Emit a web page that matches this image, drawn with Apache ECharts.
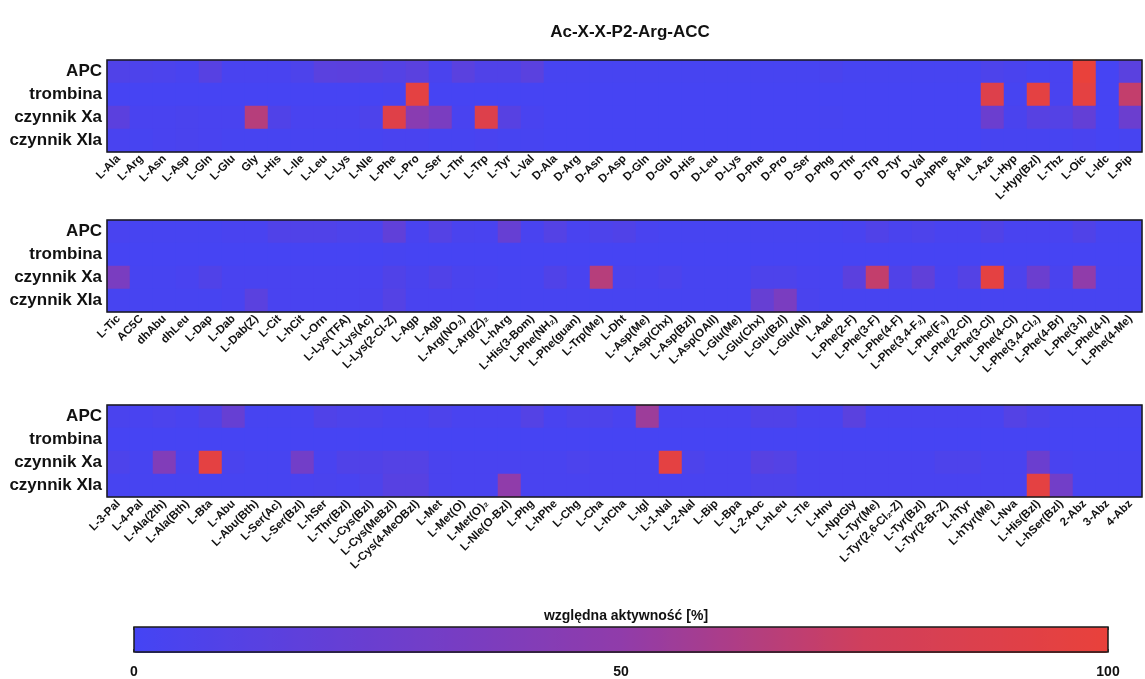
<!DOCTYPE html>
<html>
<head>
    <meta charset="utf-8">
    <title>Ac-X-X-P2-Arg-ACC</title>
    <script src="https://cdn.jsdelivr.net/npm/echarts@6/dist/echarts.min.js"></script>
    <style>
        html, body { margin: 0; padding: 0; background: #fff; }
        #chart1 { width: 1145px; height: 679px; }
    </style>
</head>
<body>
<div id="chart1"></div>
<script>
    // wiersze (enzymy)
    var enzymes = ['APC', 'trombina', 'czynnik Xa', 'czynnik XIa'];

    // panel 1 - aminokwasy naturalne, D-aminokwasy, iminokwasy
    var labels1 = ['L-Ala','L-Arg','L-Asn','L-Asp','L-Gln','L-Glu','Gly','L-His','L-Ile','L-Leu','L-Lys','L-Nle','L-Phe',
        'L-Pro','L-Ser','L-Thr','L-Trp','L-Tyr','L-Val','D-Ala','D-Arg','D-Asn','D-Asp','D-Gln','D-Glu','D-His','D-Leu',
        'D-Lys','D-Phe','D-Pro','D-Ser','D-Phg','D-Thr','D-Trp','D-Tyr','D-Val','D-hPhe','β-Ala','L-Aze','L-Hyp',
        'L-Hyp(Bzl)','L-Thz','L-Oic','L-Idc','L-Pip'];
    var apc1  = [8,6,5,3,12,3,3,3,6,14,15,13,10,14,4,14,8,8,14,2,2,2,2,2,2,2,2,2,2,2,2,4,2,2,2,2,2,2,6,4,2,3,100,1,14];
    var thr1  = [1,1,1,1,1,1,1,1,1,1,1,1,2,95,1,1,1,1,1,1,1,1,1,1,1,1,1,1,1,1,1,1,1,1,1,1,1,1,88,2,95,3,95,1,70];
    var fxa1  = [15,3,3,4,3,3,65,8,3,3,3,6,90,45,35,3,88,12,3,1,1,1,1,1,1,1,1,1,1,1,1,2,1,1,1,1,1,1,25,4,12,10,20,1,25];
    var fxia1 = [3,2,3,4,3,2,2,2,2,2,2,2,3,3,2,2,3,2,2,1,1,1,1,1,1,1,1,1,1,1,1,1,1,1,1,1,1,1,2,2,2,2,3,1,2];

    // panel 2
    var labels2 = ['L-Tic','AC5C','dhAbu','dhLeu','L-Dap','L-Dab','L-Dab(Z)','L-Cit','L-hCit','L-Orn','L-Lys(TFA)',
        'L-Lys(Ac)','L-Lys(2-Cl-Z)','L-Agp','L-Agb','L-Arg(NO₂)','L-Arg(Z)₂','L-hArg','L-His(3-Bom)','L-Phe(NH₂)',
        'L-Phe(guan)','L-Trp(Me)','L-Dht','L-Asp(Me)','L-Asp(Chx)','L-Asp(Bzl)','L-Asp(OAll)','L-Glu(Me)','L-Glu(Chx)',
        'L-Glu(Bzl)','L-Glu(All)','L-Aad','L-Phe(2-F)','L-Phe(3-F)','L-Phe(4-F)','L-Phe(3,4-F₂)','L-Phe(F₅)',
        'L-Phe(2-Cl)','L-Phe(3-Cl)','L-Phe(4-Cl)','L-Phe(3,4-Cl₂)','L-Phe(4-Br)','L-Phe(3-I)','L-Phe(4-I)','L-Phe(4-Me)'];
    var apc2  = [3,2,2,2,2,3,3,8,8,8,6,5,18,3,10,4,3,22,3,10,3,6,8,3,2,2,2,2,2,2,2,2,3,8,4,6,3,3,8,3,3,3,8,2,2];
    var thr2  = [1,1,1,1,1,1,1,1,1,1,1,1,2,1,1,1,1,1,1,1,1,1,1,1,1,1,1,1,1,1,1,1,1,1,1,1,1,1,1,1,1,1,1,1,1];
    var fxa2  = [35,2,2,3,8,3,3,3,3,3,3,3,8,4,8,4,3,2,2,8,3,65,4,3,5,2,2,2,6,6,3,2,15,70,8,18,3,10,95,5,25,4,50,2,2];
    var fxia2 = [2,2,2,2,2,3,14,3,3,3,3,4,10,3,3,3,2,2,2,2,2,2,2,2,2,2,2,2,22,35,4,2,2,2,2,2,2,2,2,2,2,2,2,2,2];

    // panel 3
    var labels3 = ['L-3-Pal','L-4-Pal','L-Ala(2th)','L-Ala(Bth)','L-Bta','L-Abu','L-Abu(Bth)','L-Ser(Ac)','L-Ser(Bzl)',
        'L-hSer','L-Thr(Bzl)','L-Cys(Bzl)','L-Cys(MeBzl)','L-Cys(4-MeOBzl)','L-Met','L-Met(O)','L-Met(O)₂',
        'L-Nle(O-Bzl)','L-Phg','L-hPhe','L-Chg','L-Cha','L-hCha','L-Igl','L-1-Nal','L-2-Nal','L-Bip','L-Bpa',
        'L-2-Aoc','L-hLeu','L-Tle','L-Hnv','L-NptGly','L-Tyr(Me)','L-Tyr(2,6-Cl₂-Z)','L-Tyr(Bzl)','L-Tyr(2-Br-Z)',
        'L-hTyr','L-hTyr(Me)','L-Nva','L-His(Bzl)','L-hSer(Bzl)','2-Abz','3-Abz','4-Abz'];
    var apc3  = [4,3,5,3,8,22,2,2,2,8,6,5,3,3,6,3,3,3,10,3,6,6,3,55,3,3,3,3,8,8,3,3,14,3,3,3,3,3,3,10,6,2,2,2,2];
    var thr3  = [1,1,1,1,1,1,1,1,1,1,1,1,1,1,1,1,1,1,1,1,1,1,1,1,1,1,1,1,1,1,1,1,1,1,1,1,1,1,1,1,1,1,1,1,1];
    var fxa3  = [6,2,40,3,95,4,2,2,30,3,8,8,10,10,4,3,3,3,3,3,5,3,3,3,95,6,3,3,12,10,3,3,3,3,3,3,6,6,3,3,25,3,2,2,2];
    var fxia3 = [2,2,2,2,2,2,2,2,3,4,3,6,12,12,4,3,3,50,3,3,3,3,3,3,3,3,3,3,6,6,3,3,3,3,3,3,3,3,3,3,95,30,2,2,2];

    // skala kolorow
    var scaleTicks = [0, 50, 100];
    var scaleColors = ['#4444f4', '#6b3ecf', '#903caa', '#d03f5c', '#e9413b'];

    var font = 'Liberation Sans, Arial, sans-serif';

    function toCells(rows) {
        var out = [];
        for (var r = 0; r < rows.length; r++) {
            for (var c = 0; c < rows[r].length; c++) {
                out.push([c, r, rows[r][c]]);
            }
        }
        return out;
    }

    var panels = [
        {labels: labels1, rows: [apc1, thr1, fxa1, fxia1], top: 60},
        {labels: labels2, rows: [apc2, thr2, fxa2, fxia2], top: 220},
        {labels: labels3, rows: [apc3, thr3, fxa3, fxia3], top: 405}
    ];

    var grids = [], xAxes = [], yAxes = [], series = [];
    panels.forEach(function (p, i) {
        // 23 px na komorke - bez szwow miedzy prostokatami
        grids.push({
            show: true, z: 5, left: 107, top: p.top, width: 1035, height: 92,
            borderColor: '#1a1a1a', borderWidth: 1.5, backgroundColor: 'transparent'
        });
        xAxes.push({
            type: 'category', gridIndex: i, data: p.labels,
            axisLine: {show: false}, axisTick: {show: false}, splitLine: {show: false},
            axisLabel: {interval: 0, rotate: 45, margin: 5, color: '#111', fontSize: 11.5, fontWeight: 'bold', fontFamily: font}
        });
        yAxes.push({
            type: 'category', gridIndex: i, data: enzymes, inverse: true,
            axisLine: {show: false}, axisTick: {show: false}, splitLine: {show: false},
            axisLabel: {margin: 5, color: '#111', fontSize: 17, fontWeight: 'bold', fontFamily: font}
        });
        series.push({
            type: 'heatmap', xAxisIndex: i, yAxisIndex: i,
            data: toCells(p.rows),
            emphasis: {disabled: true}
        });
    });

    // os pod skala kolorow
    grids.push({show: true, z: 5, left: 134, top: 627, width: 974, height: 26,
        borderColor: '#1a1a1a', borderWidth: 1.5, backgroundColor: 'transparent'});
    xAxes.push({
        type: 'value', gridIndex: 3, min: scaleTicks[0], max: scaleTicks[2], interval: scaleTicks[1],
        axisLine: {show: false}, splitLine: {show: false},
        axisTick: {show: true, inside: true, length: 3, lineStyle: {color: '#1a1a1a', width: 1.5}},
        axisLabel: {margin: 13, color: '#111', fontSize: 14, fontWeight: 'bold', fontFamily: font}
    });
    xAxes.push({
        type: 'value', gridIndex: 3, position: 'top', min: scaleTicks[0], max: scaleTicks[2], interval: scaleTicks[1],
        axisLine: {show: false}, splitLine: {show: false}, axisLabel: {show: false},
        axisTick: {show: true, inside: true, length: 3, lineStyle: {color: '#1a1a1a', width: 1.5}}
    });
    yAxes.push({type: 'value', gridIndex: 3, show: false, min: 0, max: 1});

    var myChart1 = echarts.init(document.getElementById('chart1'));
    myChart1.setOption({
        backgroundColor: '#fff',
        animation: false,
        title: [
            {text: 'Ac-X-X-P2-Arg-ACC', left: 625, top: 19, textAlign: 'center',
                textStyle: {fontSize: 17, fontWeight: 'bold', color: '#111', fontFamily: font}},
            {text: 'względna aktywność [%]', left: 621, top: 604, textAlign: 'center',
                textStyle: {fontSize: 14, fontWeight: 'bold', color: '#111', fontFamily: font}}
        ],
        grid: grids,
        xAxis: xAxes,
        yAxis: yAxes,
        visualMap: {
            type: 'continuous', seriesIndex: [0, 1, 2], min: 0, max: 100,
            orient: 'horizontal', left: 134, top: 627, padding: 0,
            itemWidth: 26, itemHeight: 974, calculable: false, hoverLink: false,
            text: null, showLabel: false,
            inRange: {color: scaleColors}
        },
        series: series
    });
</script>
</body>
</html>
